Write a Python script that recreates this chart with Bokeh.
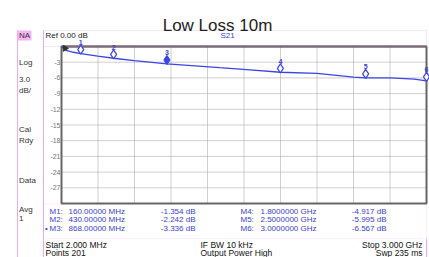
from bokeh.plotting import figure
from bokeh.models import Label, LabelSet, BoxAnnotation, ColumnDataSource, Range1d
from bokeh.transform import dodge
from bokeh.core.properties import value
from bokeh.embed import file_html
from bokeh.resources import INLINE

# ---------------- data ----------------
title = "Low Loss 10m"
trace_freq_mhz = [2, 40, 100, 160, 300, 430, 600, 868, 1100, 1300, 1550, 1800,
                  2100, 2400, 2500, 2700, 2900, 3000]
trace_db = [-0.05, -0.75, -1.10, -1.354, -1.85, -2.242, -2.70, -3.336, -3.70, -4.05,
            -4.45, -4.917, -5.15, -5.85, -5.995, -5.98, -6.25, -6.567]
marker_ids = ["1", "2", "3", "4", "5", "6"]
marker_freq_mhz = [160.0, 430.0, 868.0, 1800.0, 2500.0, 3000.0]
marker_db = [-1.354, -2.242, -3.336, -4.917, -5.995, -6.567]
active_marker = "3"
start_mhz, stop_mhz = 2.0, 3000.0
ref_db, scale_db, divisions = 0.0, 3.0, 10
y_tick_values = [-27, -24, -21, -18, -15, -12, -9, -6, -3]
sidebar_texts = ["NA", "Log", "3.0", "dB/", "Cal", "Rdy", "Data", "Avg", "1"]
header_left = "Ref 0.00 dB"
header_trace = "S21"
footer_left = ["Start 2.000 MHz", "Points 201"]
footer_mid = ["IF BW 10 kHz", "Output Power High"]
footer_right = ["Stop 3.000 GHz", "Swp 235 ms"]

# ---------------- style / layout ----------------
FONT = "Liberation Sans"
BLUE = "#3c44e6"
TXT_BLUE = "#3a42d0"
PINK = "#f2a9ee"
PINK_FILL = "#f7b6f3"
GRID = "#a0a0a0"
W, H = 429, 257
GX0, GX1, GY0, GY1 = 61, 426, 46, 203   # graticule box on the page (pixels)

bottom_db = ref_db - scale_db * divisions
xpp = (stop_mhz - start_mhz) / (GX1 - GX0)
ypp = (ref_db - bottom_db) / (GY1 - GY0)

p = figure(width=W, height=H, output_backend="svg", toolbar_location=None,
           x_axis_location=None, y_axis_location=None,
           x_range=Range1d(start_mhz - GX0 * xpp, stop_mhz + (W - GX1) * xpp),
           y_range=Range1d(bottom_db - (H - GY1) * ypp, ref_db + GY0 * ypp),
           min_border=0, background_fill_color="white", border_fill_color="white")
p.outline_line_color = None
p.grid.grid_line_color = None

# graticule grid
step = (stop_mhz - start_mhz) / divisions
x_grid = [start_mhz + k * step for k in range(1, divisions)]
p.segment(x0=x_grid, y0=[bottom_db] * len(x_grid), x1=x_grid, y1=[ref_db] * len(x_grid),
          line_color=GRID, line_dash="1 1", line_width=1)
p.segment(x0=[start_mhz] * len(y_tick_values), y0=y_tick_values,
          x1=[stop_mhz] * len(y_tick_values), y1=y_tick_values,
          line_color=GRID, line_dash="1 1", line_width=1)

# graticule border
p.quad(left=[start_mhz], right=[stop_mhz], bottom=[bottom_db], top=[ref_db],
       fill_color=None, line_color="#666666", line_width=2)
p.line([start_mhz, stop_mhz], [ref_db, ref_db], line_color="#7f6b7c", line_width=2)

# y tick labels
p.text(x=[start_mhz] * len(y_tick_values), y=y_tick_values,
       text=["%d" % t for t in y_tick_values], x_offset=-1,
       text_align="right", text_baseline="middle", text_font=value(FONT),
       text_font_size="7px", text_color="#777777")

# trace
p.line(trace_freq_mhz, trace_db, line_color=BLUE, line_width=1.3)

# reference level indicator (small wedge at the top-left of the graticule)
rsrc = ColumnDataSource(dict(x=[start_mhz], y=[ref_db]))
p.scatter(x=dodge("x", 3.5 * xpp, range=p.x_range), y=dodge("y", -0.35, range=p.y_range),
          source=rsrc, marker="triangle", angle=-1.5708, size=6, color="#333333")

# markers
msrc = ColumnDataSource(dict(
    f=marker_freq_mhz, db=marker_db, id=marker_ids,
    fill=[BLUE if m == active_marker else "white" for m in marker_ids]))
p.scatter(x="f", y=dodge("db", 0.75, range=p.y_range), source=msrc, marker="diamond",
          size=9, line_color=BLUE, fill_color="fill", line_width=1.2)
p.add_layout(LabelSet(x="f", y="db", text="id", source=msrc, y_offset=11,
                      text_align="center", text_baseline="middle",
                      text_font=value(FONT), text_font_size="7px",
                      text_font_style="bold", text_color=TXT_BLUE))


# ---------------- page decorations (page pixel positions) ----------------
def lab(text, rx, ry, size="8px", color="#222222", align="left", baseline="middle"):
    p.add_layout(Label(x=rx, y=H - ry, x_units="screen", y_units="screen", text=text,
                       text_font=FONT, text_font_size=size, text_color=color,
                       text_align=align, text_baseline=baseline))


def box(rx0, ry0, rx1, ry1, fill=None, line=None, dash="solid"):
    p.add_layout(BoxAnnotation(left=rx0, right=rx1, top=H - ry0, bottom=H - ry1,
                               left_units="screen", right_units="screen",
                               top_units="screen", bottom_units="screen",
                               fill_color=fill if fill else "white", fill_alpha=1 if fill else 0,
                               line_color=line, line_dash=dash, line_width=1, level="underlay"))


# sidebar
box(16.5, 30, 17.5, 257, fill=PINK)
box(17, 30, 31, 40, fill=PINK_FILL)
side_y = [35, 62, 79, 90, 129, 140, 180, 208.5, 217.5]
for t, yy in zip(sidebar_texts, side_y):
    lab(t, 18.5, yy, color="#333333")

# header
box(43, 30, 426, 46, line=PINK)
box(42.5, 30, 43.5, 257, fill=PINK)
lab(header_left, 45, 35)
lab(header_trace, 220, 35, color=TXT_BLUE)

# title
lab(title, 217, 25, size="17px", color="#222222", align="center", baseline="alphabetic")

# marker table
box(43, 203.5, 426, 238, line=PINK, dash="1 1")
box(425.5, 238, 426.5, 257, fill=PINK)


def fmt_freq(f):
    return "%.5f MHz" % f if f < 1000 else "%.7f GHz" % (f / 1000.0)


row_y = [211, 219.3, 227.6]
for i, (mid, f, d) in enumerate(zip(marker_ids, marker_freq_mhz, marker_db)):
    col = i // 3
    yy = row_y[i % 3]
    xname = [49, 240][col]
    xfreq = [68, 260][col]
    xval = [195, 386][col]
    if mid == active_marker:
        lab("\u2022", xname - 4.5, yy, color=TXT_BLUE)
    lab("M%s:" % mid, xname, yy, color=TXT_BLUE)
    lab(fmt_freq(f), xfreq, yy, color=TXT_BLUE)
    lab("%.3f dB" % d, xval, yy, color=TXT_BLUE, align="right")

# footer
for k, yy in enumerate([244.5, 252.5]):
    lab(footer_left[k], 45, yy, size="8.5px", color="#111111")
    lab(footer_mid[k], 200, yy, size="8.5px", color="#111111")
    lab(footer_right[k], 422, yy, size="8.5px", color="#111111", align="right")

open("out.html", "w").write(file_html(p, INLINE))
